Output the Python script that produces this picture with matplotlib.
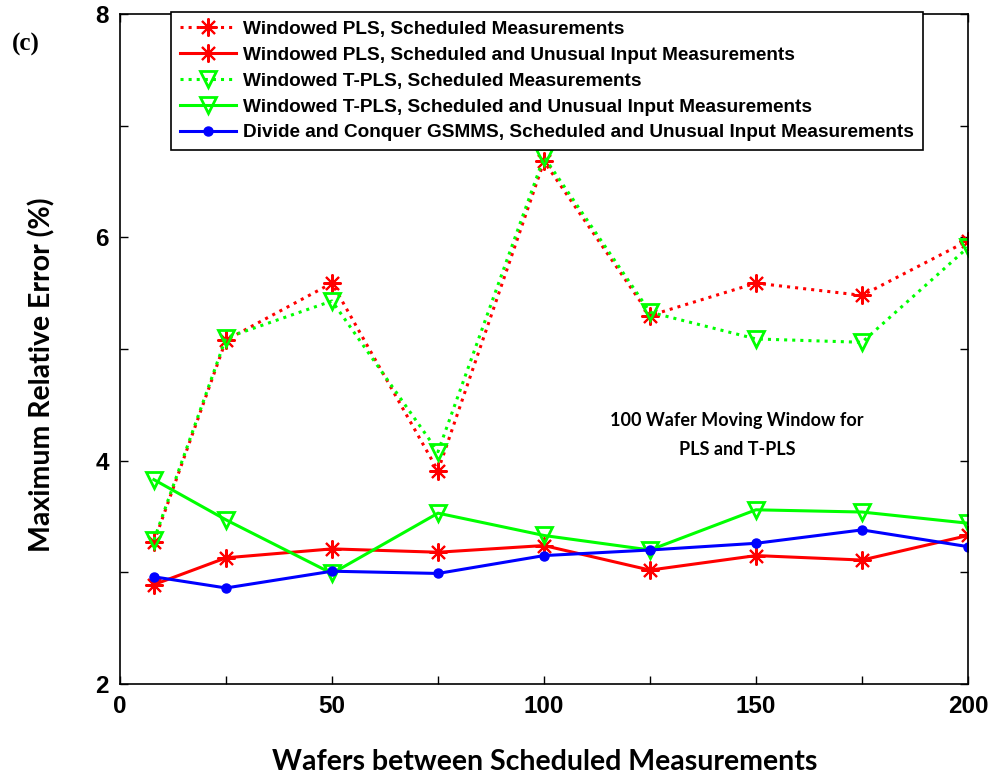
import matplotlib
matplotlib.use("Agg")
import matplotlib.pyplot as plt
from matplotlib.ticker import MultipleLocator, FuncFormatter

x = [8, 25, 50, 75, 100, 125, 150, 175, 200]
pls_sched = [3.27, 5.08, 5.59, 3.91, 6.68, 5.30, 5.59, 5.48, 5.97]
pls_unusual = [2.89, 3.13, 3.21, 3.18, 3.24, 3.02, 3.15, 3.11, 3.33]
tpls_sched = [3.29, 5.10, 5.43, 4.08, 6.72, 5.33, 5.09, 5.06, 5.91]
tpls_unusual = [3.83, 3.47, 2.99, 3.53, 3.33, 3.20, 3.56, 3.54, 3.44]
gsmms = [2.96, 2.86, 3.01, 2.99, 3.15, 3.20, 3.26, 3.38, 3.23]

labels = [
    "Windowed PLS, Scheduled Measurements",
    "Windowed PLS, Scheduled and Unusual Input Measurements",
    "Windowed T-PLS, Scheduled Measurements",
    "Windowed T-PLS, Scheduled and Unusual Input Measurements",
    "Divide and Conquer GSMMS, Scheduled and Unusual Input Measurements",
]
xlabel = "Wafers between Scheduled Measurements"
ylabel = "Maximum Relative Error (%)"
note = "100 Wafer Moving Window for\nPLS and T-PLS"

fig = plt.figure(figsize=(9.92, 7.76), dpi=100)
ax = fig.add_axes([120/992, 1-684/776, (968-120)/992, (684-14)/776])

ast = (8, 2, 0)
lw = 2.2
ax.plot(x, pls_sched, color=(1, 0, 0), ls=':', lw=lw, marker=ast, ms=13, mew=1.5, label=labels[0])
ax.plot(x, pls_unusual, color=(1, 0, 0), ls='-', lw=lw, marker=ast, ms=13, mew=1.5, label=labels[1])
ax.plot(x, tpls_sched, color=(0, 1, 0), ls=':', lw=lw, marker='v', ms=12, mfc='none', mew=2, label=labels[2])
ax.plot(x, tpls_unusual, color=(0, 1, 0), ls='-', lw=lw, marker='v', ms=12, mfc='none', mew=2, label=labels[3])
ax.plot(x, gsmms, color=(0, 0, 1), ls='-', lw=lw, marker='o', ms=6.5, label=labels[4])

ax.set_xlim(0, 200)
ax.set_ylim(2, 8)
ax.xaxis.set_major_locator(MultipleLocator(25))
ax.yaxis.set_major_locator(MultipleLocator(1))
ax.xaxis.set_major_formatter(FuncFormatter(lambda v, p: f"{int(v)}" if int(round(v)) % 50 == 0 else ""))
ax.yaxis.set_major_formatter(FuncFormatter(lambda v, p: f"{int(v)}" if int(round(v)) % 2 == 0 else ""))
ax.tick_params(direction='in', length=6, width=1, top=True, right=True, pad=8)
for lab in ax.get_xticklabels() + ax.get_yticklabels():
    lab.set_fontfamily(['Liberation Sans Narrow', 'Liberation Sans'])
    lab.set_fontweight('bold')
    lab.set_fontsize(17.5)
for s in ax.spines.values():
    s.set_linewidth(1.2)

fig.text(42/992, 1-375/776, ylabel, rotation=90, ha='center', va='center',
         fontfamily='Lato', fontweight='bold', fontsize=20.5)
fig.text(545/992, 1-762/776, xlabel, ha='center', va='center',
         fontfamily='Lato', fontweight='bold', fontsize=20.5)

fig.text(737/992, 1-435/776, note, ha='center', va='center',
         fontfamily='Lato', fontweight='bold', fontsize=13, linespacing=1.9)
fig.text(26/992, 1-44/776, "(c)", ha='center', va='center', fontfamily='Liberation Serif',
         fontweight='bold', fontsize=18)

leg = ax.legend(loc='upper left', bbox_to_anchor=(171/992, 1-12/776), bbox_transform=fig.transFigure,
                borderaxespad=0, fancybox=False, edgecolor='black', framealpha=1,
                prop={'family': ['Liberation Sans Narrow', 'Liberation Sans'], 'weight': 'bold', 'size': 13.7},
                handlelength=2.95, labelspacing=0.45, borderpad=0.45, handletextpad=0.4)
leg.get_frame().set_linewidth(1.2)

fig.savefig("out.png", dpi=100)
